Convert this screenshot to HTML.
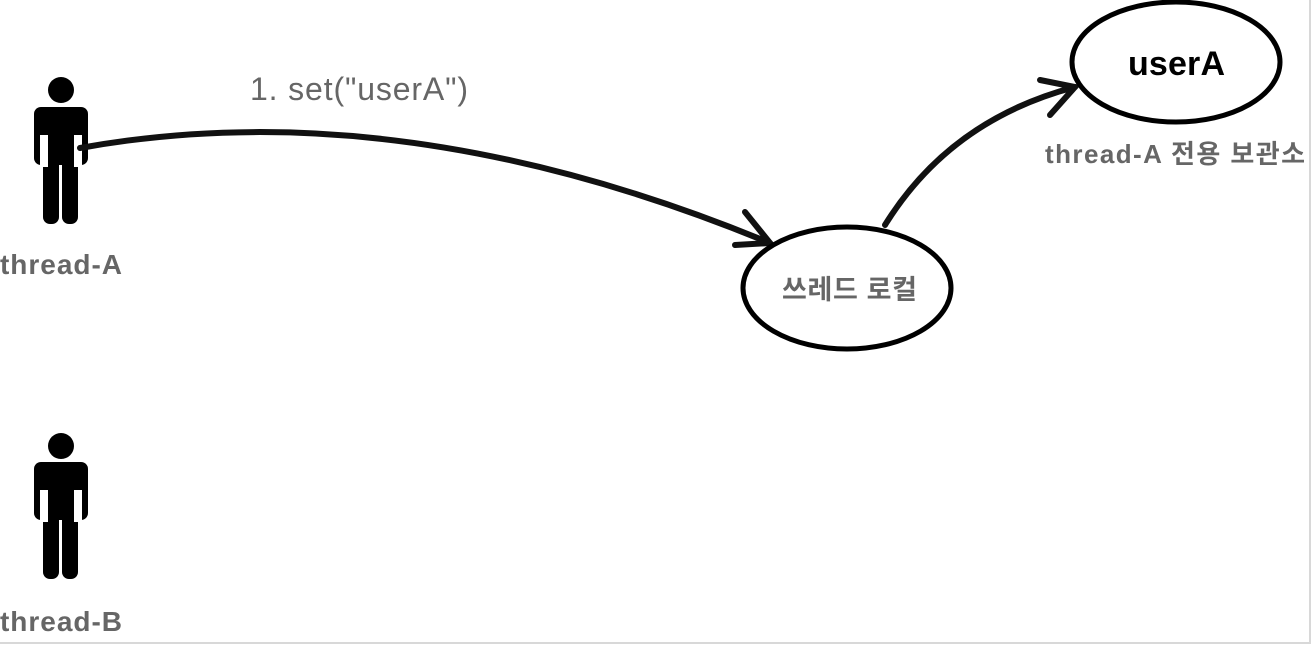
<!DOCTYPE html>
<html><head><meta charset="utf-8"><style>
html,body{margin:0;padding:0;background:#fff;}
body{width:1312px;height:646px;overflow:hidden;position:relative;}
</style></head><body>
<svg width="1312" height="646" viewBox="0 0 1312 646" xmlns="http://www.w3.org/2000/svg" style="position:absolute;left:0;top:0">
<line x1="1310" y1="0" x2="1310" y2="644" stroke="#d8d8d8" stroke-width="2"/>
<line x1="0" y1="643" x2="1311" y2="643" stroke="#d8d8d8" stroke-width="2"/>
<g fill="#000">
  <circle cx="61" cy="90" r="13"/>
  <rect x="34" y="107" width="54" height="58" rx="7"/>
  <rect x="44" y="150" width="33" height="15"/>
  <rect x="43" y="150" width="16" height="74" rx="7"/>
  <rect x="62" y="150" width="16" height="74" rx="7"/>
  <circle cx="61" cy="446" r="13"/>
  <rect x="34" y="462" width="54" height="58" rx="7"/>
  <rect x="43" y="505" width="16" height="74" rx="7"/>
  <rect x="62" y="505" width="16" height="74" rx="7"/>
</g>
<rect x="40" y="135" width="8" height="32" fill="#fff"/>
<rect x="74" y="135" width="8" height="32" fill="#fff"/>
<rect x="40" y="490" width="8" height="32" fill="#fff"/>
<rect x="74" y="490" width="8" height="32" fill="#fff"/>
<g fill="none" stroke="#111" stroke-width="6" stroke-linecap="round">
  <path d="M80 148 Q400 90 770 243"/>
  <path d="M745 212 L770 243 L735 245"/>
  <path d="M885 225 Q950 120 1075 87"/>
  <path d="M1040 80 L1075 87 L1050 115"/>
</g>
<g fill="none" stroke="#000" stroke-width="5">
  <ellipse cx="847" cy="288" rx="104" ry="61"/>
  <ellipse cx="1176" cy="62" rx="104" ry="60"/>
</g>
<g font-family="Liberation Sans, Noto Sans CJK KR, sans-serif">
  <text x="250" y="100" font-size="32" fill="#666" textLength="218">1. set("userA")</text>
  <text x="0" y="274" font-size="28" font-weight="bold" fill="#666" textLength="122">thread-A</text>
  <text x="0" y="631" font-size="28" font-weight="bold" fill="#666" textLength="122">thread-B</text>
  <text x="782" y="299" font-size="27" font-weight="bold" fill="#666" textLength="135">쓰레드 로컬</text>
  <text x="1128" y="75" font-size="34" font-weight="bold" fill="#000" textLength="97">userA</text>
  <text x="1045" y="163" font-size="26" font-weight="bold" fill="#666" textLength="260">thread-A 전용 보관소</text>
</g>
</svg>
</body></html>
